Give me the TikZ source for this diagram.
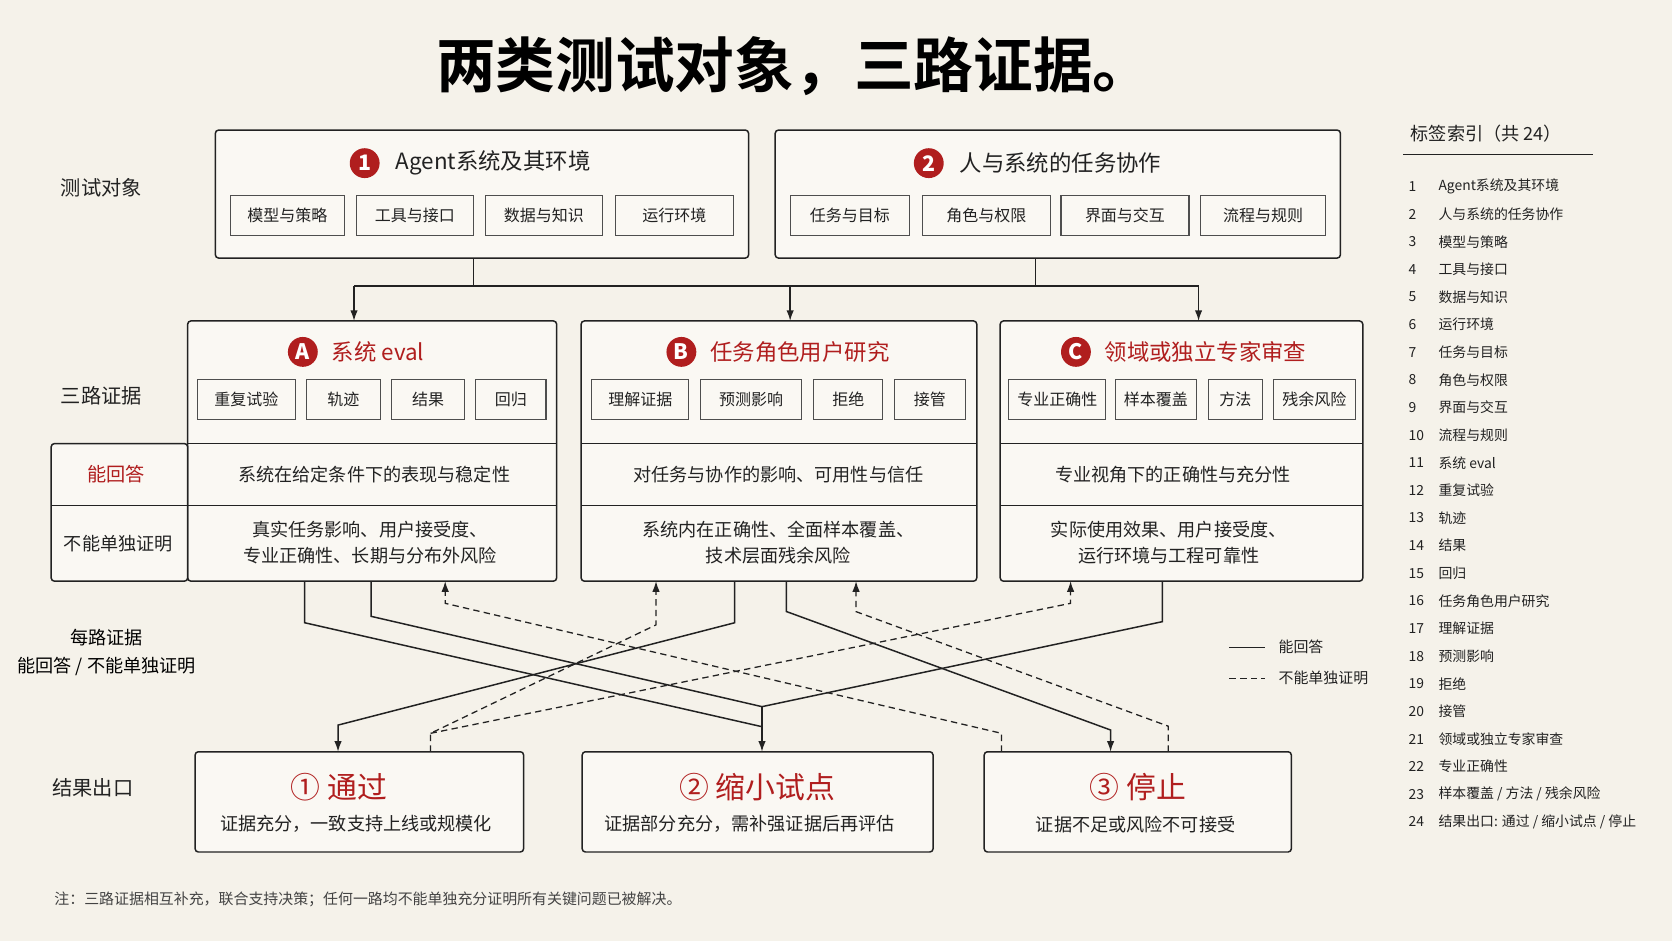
\documentclass[tikz,border=0pt]{standalone}
\usepackage{fontspec}
\setmainfont{Noto Sans CJK SC}
\newfontfamily\cjkb{Noto Sans CJK SC}[BoldFont={* Bold}]
\usetikzlibrary{arrows.meta}
\definecolor{bg}{HTML}{F5F2EA}
\definecolor{boxf}{HTML}{FAF8F3}
\definecolor{red1}{HTML}{B01E1E}
\definecolor{ink}{HTML}{222222}
\newcommand\mybox[6]{\node[#6, minimum width={(#4-#2)*0.5pt}, minimum height={(#5-#3)*0.5pt}] (#1) at ({(#2+#4)/2},{(#3+#5)/2}) {};}
\begin{document}
\begin{tikzpicture}[x=0.5pt,y=-0.5pt,
  box/.style={draw=ink, line width=0.7pt, fill=boxf, inner sep=0, outer sep=0, rounded corners=1.5pt},
  sub/.style={draw=ink!80, line width=0.5pt, fill=boxf, inner sep=0, outer sep=0},
  subt/.style={font=\fontsize{7.5}{9}\selectfont, text=ink},
  head/.style={font=\fontsize{10.5}{13}\selectfont, text=ink, anchor=west},
  headr/.style={font=\fontsize{10.5}{13}\selectfont, text=red1, anchor=west},
  circ/.style={circle, fill=red1, text=white, inner sep=0, minimum size=14pt, font=\fontsize{10}{12}\selectfont\bfseries},
  rowt/.style={font=\fontsize{8.5}{12}\selectfont, text=ink, align=center},
  lab/.style={font=\fontsize{9.5}{12}\selectfont, text=ink, align=center},
  sol/.style={line width=0.7pt, draw=ink},
  das/.style={line width=0.6pt, draw=ink, dash pattern=on 3pt off 2pt},
  arr/.style={-{Latex[length=5pt,width=3.5pt]}},
  idx/.style={font=\fontsize{6.5}{8}\selectfont, text=ink, anchor=west},
]
\fill[bg] (0,0) rectangle (1568,882);
\useasboundingbox (0,0) rectangle (1568,882);
% title
\node[font=\cjkb\bfseries\fontsize{28}{32}\selectfont, text=black] (title) at (745,62) {两类测试对象，三路证据。};
% left labels
\node[lab] (l1) at (95,176) {测试对象};
\node[lab] (l2) at (95,371) {三路证据};
\node[font=\fontsize{8.5}{13}\selectfont, align=center] (l3) at (100,612) {每路证据\\能回答 / 不能单独证明};
\node[lab] (l4) at (87,739) {结果出口};
% top boxes
\mybox{T1}{202}{122}{702}{242}{box}
\mybox{T2}{727}{122}{1257}{242}{box}
\node[circ] (c1) at (342,153) {1};
\node[head] (h1) at (364,153) {Agent系统及其环境};
\node[circ] (c2) at (871,153) {2};
\node[head] (h2) at (893,153) {人与系统的任务协作};
\foreach \n/\a/\b/\t in {s1/216/323/模型与策略, s2/334/444/工具与接口, s3/455/565/数据与知识, s4/577/688/运行环境, s5/741/853/任务与目标, s6/865/985/角色与权限, s7/995/1115/界面与交互, s8/1126/1243/流程与规则}{
  \mybox{\n}{\a}{183}{\b}{221}{sub}
  \node[subt] at (\n) {\t};
}
% evidence boxes
\mybox{A}{176}{301}{522}{545}{box}
\mybox{B}{545}{301}{916}{545}{box}
\mybox{C}{938}{301}{1278}{545}{box}
\node[circ] (cA) at (284,330) {A};
\node[headr] (hA) at (304,330) {系统 eval};
\node[circ] (cB) at (639,330) {B};
\node[headr] (hB) at (659,330) {任务角色用户研究};
\node[circ] (cC) at (1009,330) {C};
\node[headr] (hC) at (1029,330) {领域或独立专家审查};
\foreach \n/\a/\b/\t in {e1/185/277/重复试验, e2/287/357/轨迹, e3/367/436/结果, e4/446/512/回归, e5/555/646/理解证据, e6/657/752/预测影响, e7/763/828/拒绝, e8/839/905/接管, e9/946/1037/专业正确性, e10/1046/1122/样本覆盖, e11/1133/1184/方法, e12/1194/1271/残余风险}{
  \mybox{\n}{\a}{356}{\b}{393}{sub}
  \node[subt] at (\n) {\t};
}
% row label column
\mybox{L}{48}{416}{176}{545}{box}
\draw[line width=0.7pt, ink] (48,474) -- (176,474);
\foreach \b in {A,B,C}{
  \draw[line width=0.7pt, ink] (\b.west |- 0,416) -- (\b.east |- 0,416);
  \draw[line width=0.7pt, ink] (\b.west |- 0,474) -- (\b.east |- 0,474);
}
\node[font=\fontsize{9}{11}\selectfont, text=red1] (r1) at (109,445) {能回答};
\node[font=\fontsize{8.5}{11}\selectfont, text=ink] (r2) at (111,510) {不能单独证明};
\node[rowt] (ra1) at (351,445) {系统在给定条件下的表现与稳定性};
\node[rowt] (ra2) at (347,509) {真实任务影响、用户接受度、\\专业正确性、长期与分布外风险};
\node[rowt] (rb1) at (730,445) {对任务与协作的影响、可用性与信任};
\node[rowt] (rb2) at (730,509) {系统内在正确性、全面样本覆盖、\\技术层面残余风险};
\node[rowt] (rc1) at (1100,445) {专业视角下的正确性与充分性};
\node[rowt] (rc2) at (1096,509) {实际使用效果、用户接受度、\\运行环境与工程可靠性};
% top connectors
\draw[sol] (444,0 |- T1.south) -- (444,268);
\draw[sol] (971,0 |- T2.south) -- (971,268);
\draw[sol] (332,268) -- (1124,268);
\draw[sol,arr] (332,268) -- (332,0 |- A.north);
\draw[sol,arr] (741,268) -- (741,0 |- B.north);
\draw[sol,arr] (1124,268) -- (1124,0 |- C.north);
% outcome boxes
\mybox{O1}{183}{705}{491}{799}{box}
\mybox{O2}{546}{705}{875}{799}{box}
\mybox{O3}{923}{705}{1211}{799}{box}
\node[font=\fontsize{14}{16}\selectfont, text=red1] (o1t) at (318,738) {① 通过};
\node[rowt] (o1s) at (334,773) {证据充分，一致支持上线或规模化};
\node[font=\fontsize{14}{16}\selectfont, text=red1] (o2t) at (710,738) {② 缩小试点};
\node[rowt] (o2s) at (703,773) {证据部分充分，需补强证据后再评估};
\node[font=\fontsize{14}{16}\selectfont, text=red1] (o3t) at (1067,738) {③ 停止};
\node[rowt] (o3s) at (1065,773) {证据不足或风险不可接受};
% solid connectors
\draw[sol] (285.7,0 |- A.south) -- (285.7,584) -- (714.6,681.5);
\draw[sol] (348,0 |- A.south) -- (348,578) -- (714.6,662.7);
\draw[sol] (1090,0 |- C.south) -- (1090,583) -- (714.6,662.7);
\draw[sol,arr] (714.6,662.7) -- (714.6,0 |- O2.north);
\draw[sol,arr] (689,0 |- B.south) -- (689,584) -- (317,680) -- (317,0 |- O1.north);
\draw[sol,arr] (737.5,0 |- B.south) -- (737.5,573.5) -- (1041.5,684.6) -- (1041.5,0 |- O3.north);
% dashed connectors
\draw[das,arr] (403.8,0 |- O1.north) -- (403.8,687.7) -- (615.2,586) -- (615.2,0 |- B.south);
\draw[das,arr] (403.8,687.7) -- (1004,565.8) -- (1004,0 |- C.south);
\draw[das,arr] (939.2,0 |- O3.north) -- (939.2,687.7) -- (417.5,565.8) -- (417.5,0 |- A.south);
\draw[das,arr] (1095.5,0 |- O3.north) -- (1095.5,681) -- (802.8,573.6) -- (802.8,0 |- B.south);
% legend
\coordinate (lg1) at (1153,607); \coordinate (lg2) at (1186,607);
\draw[sol] (lg1) -- (lg2);
\node[idx, font=\fontsize{7}{8}\selectfont] (lgt1) at (1192,607) {能回答};
\coordinate (lg3) at (1153,636); \coordinate (lg4) at (1186,636);
\draw[das] (lg3) -- (lg4);
\node[idx, font=\fontsize{7}{8}\selectfont] (lgt2) at (1192,636) {不能单独证明};
% note
\node[anchor=west, font=\fontsize{7}{9}\selectfont, text=ink!85] (note) at (44,843) {注：三路证据相互补充，联合支持决策；任何一路均不能单独充分证明所有关键问题已被解决。};
% index
\node[anchor=west, font=\fontsize{8.5}{10}\selectfont, text=ink] (ixt) at (1316,125) {标签索引（共 24）};
\coordinate (u1) at (1316,145); \coordinate (u2) at (1494,145);
\draw[line width=0.7pt, ink] (u1) -- (u2);
\foreach \i/\t in {1/{Agent系统及其环境},2/{人与系统的任务协作},3/{模型与策略},4/{工具与接口},5/{数据与知识},6/{运行环境},7/{任务与目标},8/{角色与权限},9/{界面与交互},10/{流程与规则},11/{系统 eval},12/{重复试验},13/{轨迹},14/{结果},15/{回归},16/{任务角色用户研究},17/{理解证据},18/{预测影响},19/{拒绝},20/{接管},21/{领域或独立专家审查},22/{专业正确性},23/{样本覆盖 / 方法 / 残余风险},24/{结果出口: 通过 / 缩小试点 / 停止}}{
  \node[idx] (in\i) at (1314,{175+25.9*(\i-1)}) {\i};
  \node[idx] (it\i) at (1342,{175+25.9*(\i-1)}) {\t};
}
\end{tikzpicture}
\end{document}
